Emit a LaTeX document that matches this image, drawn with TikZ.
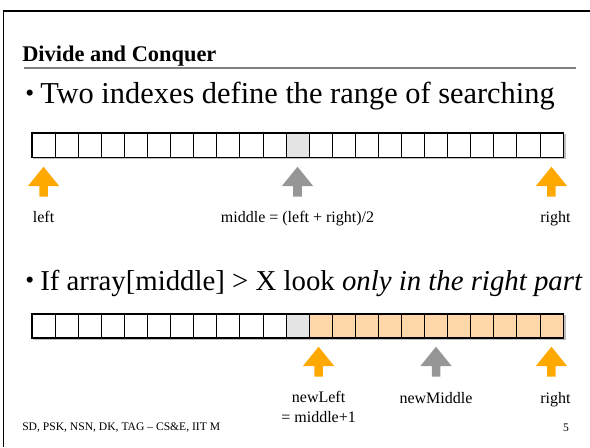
\documentclass[tikz,border=0pt]{standalone}
\usepackage{fontspec}
\setmainfont{Liberation Serif}
\usetikzlibrary{shapes.arrows}
\definecolor{ptrorange}{RGB}{255,168,0}
\definecolor{ptrgray}{RGB}{150,150,150}
\definecolor{midcell}{RGB}{228,228,228}
\definecolor{partcell}{RGB}{255,214,168}
\tikzstyle{cell}=[draw,line width=0.5pt,minimum width=17.32pt,minimum height=17.6pt,inner sep=0pt]
\tikzstyle{ptr}=[single arrow,shape border rotate=90,inner sep=3pt,minimum height=22.5pt,
  single arrow head extend=8.6pt,single arrow tip angle=78,anchor=tail]
\tikzstyle{lbl}=[font=\fontsize{12}{14.5}\selectfont,anchor=base]
\tikzstyle{shadow}=[black!25,line width=1pt]
\newcommand{\bul}{\makebox[11.25pt][l]{\raisebox{1pt}{\fontsize{19}{19}\selectfont\textbullet}}}

\begin{document}
\begin{tikzpicture}[x=0.75pt,y=-0.75pt]
        \useasboundingbox (0,0) rectangle (590,447);
        % slide frame and title
        \draw[line width=1.2pt] (3.5,447) -- (3.5,11) -- (590,11);
        \node[anchor=base west,inner sep=0pt,font=\fontsize{16.8}{18}\selectfont\bfseries] (ttl) at (22,61) {Divide and Conquer};
        \draw[gray,line width=0.8pt] (24,68) -- (576,68);
        \node[anchor=base west,inner sep=0pt,font=\fontsize{22.8}{26}\selectfont] (pt1) at (25,103)
          {\bul Two indexes define the range of searching};
        \node[anchor=base west,inner sep=0pt,font=\fontsize{21.6}{26}\selectfont] (pt2) at (25,290)
          {\bul If array[middle] > X look \textit{only in the right part}};
        % rows for arrows and labels
        \coordinate (r1) at (0,197);
        \coordinate (l1) at (0,222);
        \coordinate (r2) at (0,377);
        \coordinate (l2) at (0,403);
        % first array
        \foreach \i in {0,...,22} {
          \ifnum\i=11 \def\c{midcell}\else\def\c{white}\fi
          \node[cell,fill=\c] (a\i) at ({43.54+23.087*\i},145.3) {};
        }
        \draw[shadow] ([shift={(1.5,1.2)}]a0.south west) -- ([shift={(1.5,1.2)}]a22.south east) -- ([shift={(1.5,1.2)}]a22.north east);
        \draw[line width=1.2pt] (a0.north west) rectangle (a22.south east);
        \node[ptr,fill=ptrorange] (lo) at (a0 |- r1) {};
        \node[ptr,fill=ptrgray] (mid) at (a11 |- r1) {};
        \node[ptr,fill=ptrorange] (hi) at (a22 |- r1) {};
        \node[lbl] (lolbl) at (lo |- l1) {left};
        \node[lbl] (midlbl) at (mid |- l1) {middle = (left + right)/2};
        \node[lbl] (hilbl) at ([xshift=3]hi |- l1) {right};
        % second array
        \foreach \i in {0,...,22} {
          \ifnum\i<11 \def\c{white}\else\ifnum\i=11 \def\c{midcell}\else\def\c{partcell}\fi\fi
          \node[cell,fill=\c] (b\i) at ({43.54+23.087*\i},325.8) {};
        }
        \draw[shadow] ([shift={(1.5,1.2)}]b0.south west) -- ([shift={(1.5,1.2)}]b22.south east) -- ([shift={(1.5,1.2)}]b22.north east);
        \draw[line width=1.2pt] (b0.north west) rectangle (b22.south east);
        \node[ptr,fill=ptrorange] (nlo) at ([xshift=-1.5]b12 |- r2) {};
        \node[ptr,fill=ptrgray] (nmid) at (b17 |- r2) {};
        \node[ptr,fill=ptrorange] (nhi) at (b22 |- r2) {};
        \node[lbl,align=center] (nlolbl) at ([yshift=-14.25pt]nlo |- l2) {newLeft\\= middle+1};
        \node[lbl] (nmidlbl) at (nmid |- l2) {newMiddle};
        \node[lbl] (nhilbl) at ([xshift=3]nhi |- l2) {right};
        % footer
        \node[anchor=base west,inner sep=0pt,font=\fontsize{8.7}{10}\selectfont] (foot) at (22,430) {SD, PSK, NSN, DK, TAG -- CS\&E, IIT M};
        \node[anchor=base,inner sep=0pt,font=\fontsize{8.7}{10}\selectfont] (pgno) at (566,431) {5};
      \end{tikzpicture}
\end{document}
